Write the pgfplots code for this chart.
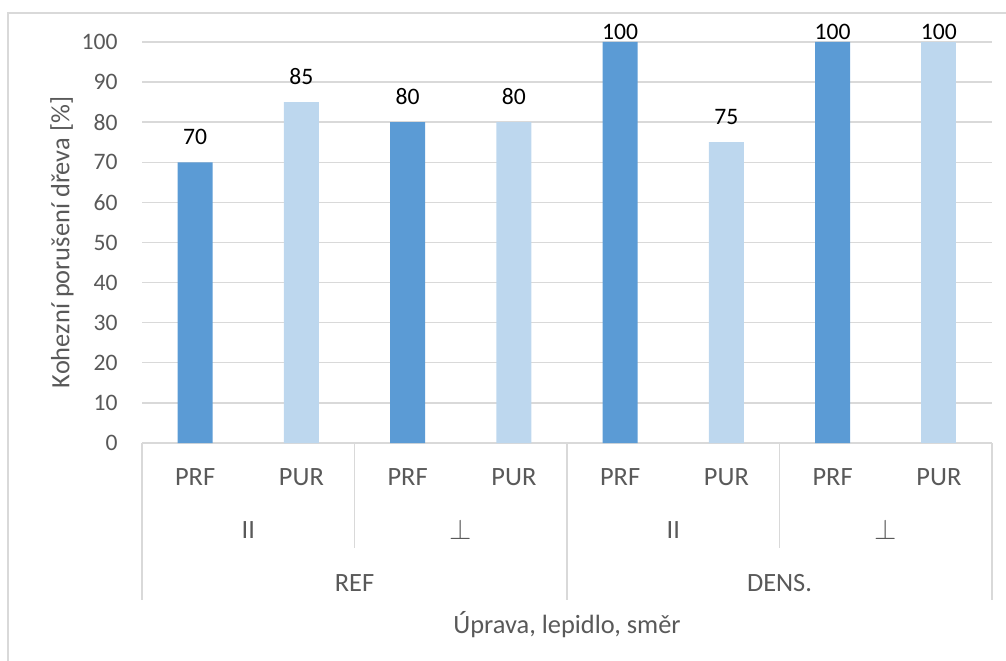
\documentclass[border=0pt]{standalone}
\usepackage{fontspec}
\setmainfont{Carlito}
\usepackage{pgfplots}
\pgfplotsset{compat=1.18}
\definecolor{darkbar}{HTML}{5B9BD5}
\definecolor{lightbar}{HTML}{BDD7EE}
\definecolor{gridc}{HTML}{D9D9D9}
\definecolor{txt}{HTML}{595959}

\begin{document}
\begin{tikzpicture}[font=\fontsize{11.8bp}{14bp}\selectfont]
\path[use as bounding box] (0,0) rectangle (503bp,330.5bp);
\draw[gridc, line width=0.9bp] (4bp,0) -- (4bp,324bp) -- (503bp,324bp);
\begin{axis}[
  at={(71bp,109bp)}, anchor=south west,
  scale only axis, width=425bp, height=200.5bp,
  xmin=-0.5, xmax=7.5, ymin=0, ymax=100,
  ybar, bar width=17.5bp, bar shift=0pt,
  axis x line*=bottom, axis y line*=left,
  x axis line style={draw=gridc, line width=0.7bp, -},
  y axis line style={draw=none},
  ymajorgrids, grid style={gridc, line width=0.7bp},
  ytick={0,10,...,100}, major tick length=0pt,
  xtick={0,...,7},
  xticklabels={PRF,PUR,PRF,PUR,PRF,PUR,PRF,PUR},
  xticklabel style={text=txt, anchor=center, inner sep=0pt, yshift=-17bp,
    font=\fontsize{13.2bp}{15bp}\selectfont},
  yticklabel style={text=txt, anchor=east, inner sep=0pt, xshift=-12bp},
  /pgf/number format/assume math mode=true,
  clip=false,
  nodes near coords,
  nodes near coords style={text=black, anchor=south, inner sep=0pt},
]
% PRF bars
\addplot[fill=darkbar, draw=none, every node near coord/.append style={yshift=8.5bp}]
  coordinates {(0,70) (2,80)};
\addplot[fill=darkbar, draw=none, every node near coord/.append style={yshift=1bp}]
  coordinates {(4,100) (6,100)};
% PUR bars
\addplot[fill=lightbar, draw=none, every node near coord/.append style={yshift=8.5bp}]
  coordinates {(1,85) (3,80) (5,75)};
\addplot[fill=lightbar, draw=none, every node near coord/.append style={yshift=1bp}]
  coordinates {(7,100)};

% multi-level category axis
\draw[gridc, line width=0.7bp] (axis cs:-0.5,0) -- ([yshift=-78.5bp]axis cs:-0.5,0);
\draw[gridc, line width=0.7bp] (axis cs:3.5,0) -- ([yshift=-78.5bp]axis cs:3.5,0);
\draw[gridc, line width=0.7bp] (axis cs:7.5,0) -- ([yshift=-78.5bp]axis cs:7.5,0);
\draw[gridc, line width=0.7bp] (axis cs:1.5,0) -- ([yshift=-52.5bp]axis cs:1.5,0);
\draw[gridc, line width=0.7bp] (axis cs:5.5,0) -- ([yshift=-52.5bp]axis cs:5.5,0);
\begin{scope}[font=\fontsize{13.2bp}{15bp}\selectfont]
\node[text=txt] at ([yshift=-43.5bp]axis cs:0.5,0) {II};
\node[text=txt] at ([yshift=-43.5bp]axis cs:2.5,0) {$\perp$};
\node[text=txt] at ([yshift=-43.5bp]axis cs:4.5,0) {II};
\node[text=txt] at ([yshift=-43.5bp]axis cs:6.5,0) {$\perp$};
\node[text=txt] at ([yshift=-70bp]axis cs:1.5,0) {REF};
\node[text=txt] at ([yshift=-70bp]axis cs:5.5,0) {DENS.};
\node[text=txt] at ([yshift=-91bp]axis cs:3.5,0) {Úprava, lepidlo, směr};
\node[text=txt, rotate=90] at ([xshift=-40bp]axis cs:-0.5,50) {Kohezní porušení dřeva [\%]};
\end{scope}
\end{axis}
\end{tikzpicture}
\end{document}
